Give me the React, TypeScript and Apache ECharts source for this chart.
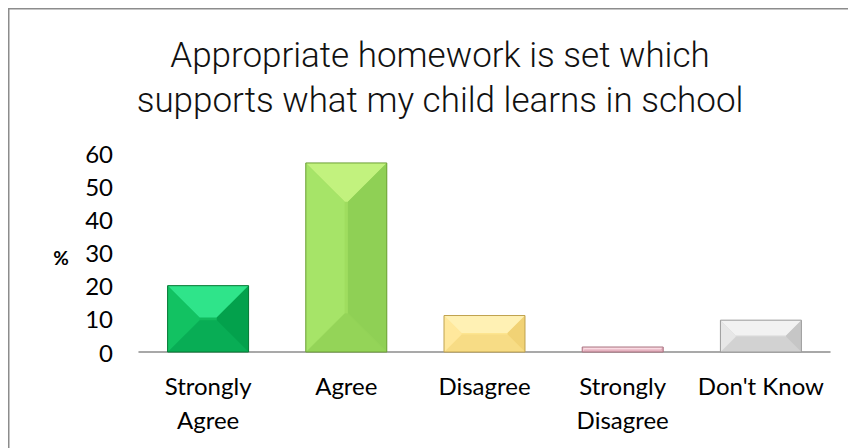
import React, { useEffect, useRef } from "react";
import * as echarts from "echarts";

const titleLines = ["Appropriate homework is set which", "supports what my child learns in school"];
const categories = ["Strongly Agree", "Agree", "Disagree", "Strongly Disagree", "Don't Know"];
const values = [20, 57, 11, 1.5, 9.6];
const yTicks = { min: 0, max: 60, interval: 10 };
const yUnit = "%";

const palettes = [
  { top: "#2fe48a", left: "#12c262", face: "#10bb5e", right: "#03a14c", bottom: "#08ad55", edge: "#067a35" },
  { top: "#c2f27e", left: "#a6e468", face: "#9fdd5f", right: "#8fd055", bottom: "#94d458", edge: "#6c9f36" },
  { top: "#fff1b4", left: "#ffe89c", face: "#fde58f", right: "#f1d275", bottom: "#f7dc85", edge: "#bfa24f" },
  { top: "#fadbe3", left: "#f5ccd6", face: "#f1c2cd", right: "#deaab8", bottom: "#e6b4c1", edge: "#a9707f" },
  { top: "#f2f2f2", left: "#e7e7e7", face: "#d8d8d8", right: "#c6c6c6", bottom: "#d2d2d2", edge: "#9c9c9c" },
];

export default function App() {
  const ref = useRef<HTMLDivElement>(null);
  useEffect(() => {
    document.body.style.margin = "0";
    document.body.style.overflow = "hidden";
    if (!ref.current) return;
    const chart = echarts.init(ref.current, null, { renderer: "svg" });
    const renderItem = (params: any, api: any) => {
      const idx = api.value(0);
      const val = api.value(1);
      const top = api.coord([idx, val]);
      const base = api.coord([idx, 0]);
      const band = api.size([1, 0])[0];
      const w = band * 0.586;
      const x0 = top[0] - w / 2;
      const x1 = top[0] + w / 2;
      const y0 = top[1];
      const y1 = base[1];
      const h = y1 - y0;
      const b = Math.min(w, h) / 2 * 0.96;
      const p = palettes[params.dataIndex % palettes.length];
      return {
        type: "group",
        children: [
          { type: "rect", shape: { x: x0, y: y0, width: w, height: h }, style: { fill: p.face } },
          { type: "polygon", shape: { points: [[x0, y0], [x1, y0], [x1 - b, y0 + b], [x0 + b, y0 + b]] }, style: { fill: p.top } },
          { type: "polygon", shape: { points: [[x0, y1], [x1, y1], [x1 - b, y1 - b], [x0 + b, y1 - b]] }, style: { fill: p.bottom } },
          { type: "polygon", shape: { points: [[x0, y0], [x0 + b, y0 + b], [x0 + b, y1 - b], [x0, y1]] }, style: { fill: p.left } },
          { type: "polygon", shape: { points: [[x1, y0], [x1 - b, y0 + b], [x1 - b, y1 - b], [x1, y1]] }, style: { fill: p.right } },
          { type: "rect", shape: { x: x0, y: y0, width: w, height: h }, style: { fill: "none", stroke: p.edge, lineWidth: 1 } },
        ],
      };
    };
    chart.setOption({
      animation: false,
      title: {
        text: titleLines.join("\n"),
        left: 435,
        top: 28,
        textAlign: "center",
        textStyle: { fontFamily: "Roboto", fontWeight: 300, fontSize: 35, lineHeight: 45, color: "#111" },
      },
      grid: { left: 139, right: 18, top: 153, bottom: 96 },
      xAxis: {
        type: "category",
        data: categories,
        axisLine: { lineStyle: { color: "#8c8c8c", width: 1.5 } },
        axisTick: { show: false },
        axisLabel: {
          margin: 16,
          interval: 0,
          color: "#000",
          fontFamily: "Lato",
          fontSize: 24,
          lineHeight: 34,
          formatter: (v: string) => v.replace("Strongly ", "Strongly\n"),
        },
      },
      yAxis: {
        type: "value",
        min: yTicks.min,
        max: yTicks.max,
        interval: yTicks.interval,
        axisLine: { show: false },
        axisTick: { show: false },
        splitLine: { show: false },
        axisLabel: { margin: 26, color: "#000", fontFamily: "Lato", fontSize: 24 },
      },
      graphic: [
        { type: "rect", shape: { x: 8.75, y: 8.75, width: 900, height: 500 }, style: { fill: "none", stroke: "#8c8c8c", lineWidth: 1.5 }, silent: true },
        { type: "text", x: 61, y: 257, style: { text: yUnit, font: "bold 19px Lato", fill: "#000", textAlign: "center", textVerticalAlign: "middle" } },
      ],
      series: [
        {
          type: "custom",
          renderItem,
          data: values.map((v, i) => [i, v]),
          encode: { x: 0, y: 1 },
        },
      ],
    });
    return () => chart.dispose();
  }, []);
  return <div ref={ref} style={{ width: 848, height: 448 }} />;
}
